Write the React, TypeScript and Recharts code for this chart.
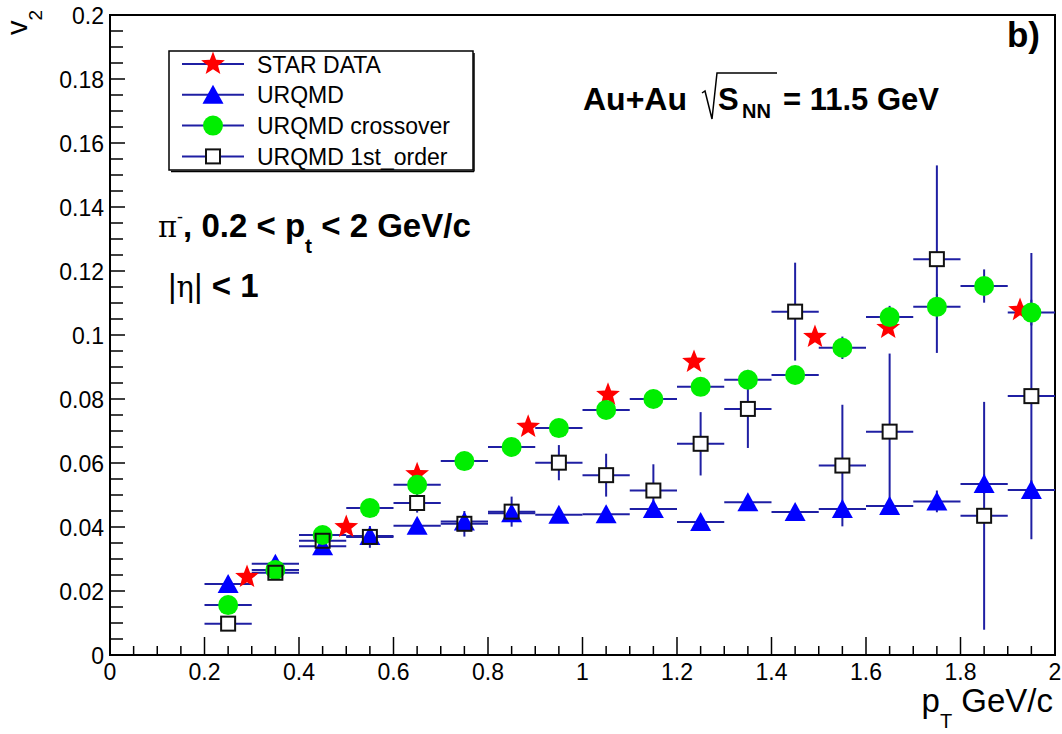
import React from 'react';
import { ScatterChart, Scatter, XAxis, YAxis, ErrorBar, Legend, ReferenceArea } from 'recharts';

// ---- data ----
const ptBins = [0.25, 0.35, 0.45, 0.55, 0.65, 0.75, 0.85, 0.95, 1.05, 1.15, 1.25, 1.35, 1.45, 1.55, 1.65, 1.75, 1.85, 1.95];
const ptBinHalfWidth = 0.05;
const urqmdV2 = [0.0222, 0.0285, 0.034, 0.0372, 0.0404, 0.0417, 0.0443, 0.0438, 0.044, 0.0456, 0.0416, 0.0477, 0.0447, 0.0456, 0.0466, 0.048, 0.0534, 0.0516];
const urqmdErr = [0.0015, 0.0015, 0.0015, 0.0015, 0.0015, 0.0025, 0.002, 0.0015, 0.0015, 0.002, 0.0015, 0.002, 0.002, 0.002, 0.002, 0.0034, 0.003, 0.003];
const crossV2 = [0.0156, 0.0266, 0.0375, 0.0459, 0.0532, 0.0606, 0.065, 0.0709, 0.0766, 0.08, 0.0838, 0.086, 0.0875, 0.096, 0.1056, 0.1088, 0.1153, 0.107];
const crossErr = [0.001, 0.001, 0.0015, 0.0015, 0.002, 0.002, 0.002, 0.002, 0.002, 0.002, 0.0025, 0.0025, 0.0025, 0.0035, 0.0035, 0.004, 0.0052, 0.004];
const firstV2 = [0.0098, 0.0257, 0.0357, 0.0369, 0.0475, 0.041, 0.0448, 0.0601, 0.0562, 0.0514, 0.066, 0.0769, 0.1073, 0.0592, 0.0698, 0.1237, 0.0435, 0.0809];
const firstErr = [0.0015, 0.0015, 0.002, 0.0034, 0.003, 0.004, 0.0047, 0.0055, 0.0067, 0.0082, 0.0099, 0.0122, 0.0153, 0.019, 0.0244, 0.0293, 0.0356, 0.0447];
const starPt = [0.29, 0.5, 0.65, 0.885, 1.054, 1.236, 1.492, 1.647, 1.926];
const starV2 = [0.0244, 0.04, 0.0565, 0.0713, 0.0813, 0.0916, 0.0994, 0.1022, 0.1078];

const xMajorTicks = [0, 0.2, 0.4, 0.6, 0.8, 1, 1.2, 1.4, 1.6, 1.8, 2];
const xMajorLabels = ['0', '0.2', '0.4', '0.6', '0.8', '1', '1.2', '1.4', '1.6', '1.8', '2'];
const yMajorTicks = [0, 0.02, 0.04, 0.06, 0.08, 0.1, 0.12, 0.14, 0.16, 0.18, 0.2];
const yMajorLabels = ['0', '0.02', '0.04', '0.06', '0.08', '0.1', '0.12', '0.14', '0.16', '0.18', '0.2'];
const xMinorDivisions = 4;
const yMinorDivisions = 4;

const seriesNames = ['STAR DATA', 'URQMD', 'URQMD crossover', 'URQMD 1st_order'];

// ---- derived tables ----
const binned = (vals: number[], errs: number[]) =>
  ptBins.map((x, i) => ({ x, y: vals[i], ex: ptBinHalfWidth, ey: errs[i] }));
const starData = starPt.map((x, i) => ({ x, y: starV2[i] }));
const urqmdData = binned(urqmdV2, urqmdErr);
const crossData = binned(crossV2, crossErr);
const firstData = binned(firstV2, firstErr);

const withMinors = (majors: number[], div: number) => {
  const out: number[] = [];
  for (let i = 0; i < majors.length - 1; i++) {
    const step = (majors[i + 1] - majors[i]) / div;
    for (let k = 0; k < div; k++) out.push(Number((majors[i] + k * step).toFixed(5)));
  }
  out.push(majors[majors.length - 1]);
  return out;
};
const xTicks = withMinors(xMajorTicks, xMinorDivisions);
const yTicks = withMinors(yMajorTicks, yMinorDivisions);

const labelFor = (v: number, majors: number[], labels: string[]) => {
  const i = majors.findIndex((m) => Math.abs(m - v) < 1e-6);
  return i >= 0 ? labels[i] : null;
};

// ---- styles ----
const FONT = '"Liberation Sans", Arial, Helvetica, sans-serif';
const BAR = '#1f1fa3';
const RED = '#ff0000';
const BLUE = '#0000ff';
const GREEN = '#00ee00';

// ---- markers ----
const starPoints = (cx: number, cy: number) => {
  const pts: string[] = [];
  for (let i = 0; i < 10; i++) {
    const r = i % 2 === 0 ? 12.5 : 5.3;
    const a = -Math.PI / 2 + (i * Math.PI) / 5;
    pts.push(`${cx + r * Math.cos(a)},${cy + r * Math.sin(a)}`);
  }
  return pts.join(' ');
};
const StarMark = ({ cx, cy }: any) => (cx == null ? null : <polygon points={starPoints(cx, cy)} fill={RED} />);
const TriMark = ({ cx, cy }: any) =>
  cx == null ? null : (
    <polygon points={`${cx},${cy - 10} ${cx + 10.5},${cy + 9} ${cx - 10.5},${cy + 9}`} fill={BLUE} />
  );
const CircleMark = ({ cx, cy }: any) => (cx == null ? null : <circle cx={cx} cy={cy} r={10} fill={GREEN} />);
const SquareFill = ({ cx, cy }: any) =>
  cx == null ? null : <rect x={cx - 7} y={cy - 7} width={14} height={14} fill="#ffffff" stroke="none" />;
const SquareLine = ({ cx, cy }: any) =>
  cx == null ? null : <rect x={cx - 7} y={cy - 7} width={14} height={14} fill="none" stroke="#111" strokeWidth={2} />;
const SquareFull = ({ cx, cy }: any) =>
  cx == null ? null : <rect x={cx - 7} y={cy - 7} width={14} height={14} fill="#fff" stroke="#111" strokeWidth={2} />;

const markerByName: Record<string, (p: any) => any> = {
  'STAR DATA': StarMark,
  URQMD: TriMark,
  'URQMD crossover': CircleMark,
  'URQMD 1st_order': SquareFull,
};

// ---- ticks ----
const XTick = (props: any) => {
  const { x, y, payload } = props;
  const label = labelFor(payload.value, xMajorTicks, xMajorLabels);
  const len = label !== null ? 18 : 9;
  return (
    <g>
      <line x1={x} y1={y} x2={x} y2={y - len} stroke="#000" strokeWidth={1.5} />
      {label !== null && (
        <text x={x} y={y + 25} textAnchor="middle" fontSize={23} fontFamily={FONT} fill="#000">
          {label}
        </text>
      )}
    </g>
  );
};
const YTick = (props: any) => {
  const { x, y, payload } = props;
  const label = labelFor(payload.value, yMajorTicks, yMajorLabels);
  const len = label !== null ? 15 : 13;
  return (
    <g>
      <line x1={x} y1={y} x2={x + len} y2={y} stroke="#000" strokeWidth={1.5} />
      {label !== null && (
        <text x={x - 6} y={y + 9} textAnchor="end" fontSize={23} fontFamily={FONT} fill="#000">
          {label}
        </text>
      )}
    </g>
  );
};

// ---- legend ----
const LegendBox = (props: any) => {
  const payload = (props.payload || [])
    .filter((e: any) => seriesNames.includes(e.value))
    .sort((a: any, b: any) => seriesNames.indexOf(a.value) - seriesNames.indexOf(b.value));
  return (
    <svg width={308} height={123} style={{ display: 'block' }}>
      <rect x={1} y={1} width={304} height={119} fill="#fff" stroke="#000" strokeWidth={1.5} />
      <line x1={306} y1={3} x2={306} y2={121.5} stroke="#000" strokeWidth={1.5} />
      <line x1={3} y1={121.5} x2={306} y2={121.5} stroke="#000" strokeWidth={1.5} />
      {payload.map((e: any, i: number) => {
        const cy = 14 + i * 30.8;
        const M = markerByName[e.value];
        return (
          <g key={e.value}>
            <line x1={14} y1={cy} x2={76} y2={cy} stroke={BAR} strokeWidth={2} />
            <M cx={45} cy={cy} />
            <text x={89} y={cy + 8.5} fontSize={23} fontFamily={FONT} fill="#000">
              {e.value}
            </text>
          </g>
        );
      })}
    </svg>
  );
};

export default function App() {
  return (
    <div style={{ position: 'absolute', left: 0, top: 0, width: 1062, height: 734, background: '#fff' }}>
      <ScatterChart width={1062} height={734} margin={{ top: 15, right: 7, bottom: 0, left: 0 }}>
        <XAxis
          type="number"
          dataKey="x"
          domain={[0, 2]}
          allowDataOverflow
          ticks={xTicks}
          interval={0}
          tickSize={0}
          tickMargin={0}
          tickLine={false}
          height={79}
          axisLine={{ stroke: '#000', strokeWidth: 2 }}
          tick={XTick}
        />
        <YAxis
          type="number"
          dataKey="y"
          domain={[0, 0.2]}
          allowDataOverflow
          ticks={yTicks}
          interval={0}
          tickSize={0}
          tickMargin={0}
          tickLine={false}
          width={110}
          axisLine={{ stroke: '#000', strokeWidth: 2 }}
          tick={YTick}
        />
        <ReferenceArea x1={0} x2={2} y1={0} y2={0.2} fill="none" stroke="#000" strokeWidth={2} fillOpacity={0} />
        <Legend
          layout="vertical"
          align="center"
          verticalAlign="middle"
          content={LegendBox}
          wrapperStyle={{ left: 168, top: 50, width: 308, height: 123 }}
        />
        <Scatter name="STAR DATA" data={starData} shape={StarMark} isAnimationActive={false} />
        <Scatter name="URQMD 1st_order bg" legendType="none" data={firstData} shape={SquareFill} isAnimationActive={false}>
          <ErrorBar dataKey="ex" direction="x" width={0} stroke={BAR} strokeWidth={2} />
          <ErrorBar dataKey="ey" direction="y" width={0} stroke={BAR} strokeWidth={2} />
        </Scatter>
        <Scatter name="URQMD" data={urqmdData} shape={TriMark} isAnimationActive={false}>
          <ErrorBar dataKey="ex" direction="x" width={0} stroke={BAR} strokeWidth={2} />
          <ErrorBar dataKey="ey" direction="y" width={0} stroke={BAR} strokeWidth={2} />
        </Scatter>
        <Scatter name="URQMD crossover" data={crossData} shape={CircleMark} isAnimationActive={false}>
          <ErrorBar dataKey="ex" direction="x" width={0} stroke={BAR} strokeWidth={2} />
          <ErrorBar dataKey="ey" direction="y" width={0} stroke={BAR} strokeWidth={2} />
        </Scatter>
        <Scatter name="URQMD 1st_order" data={firstData} shape={SquareLine} isAnimationActive={false} />
      </ScatterChart>
      <svg
        width={1062}
        height={734}
        style={{ position: 'absolute', left: 0, top: 0, pointerEvents: 'none' }}
        fontFamily={FONT}
      >
        {/* y axis title */}
        <text x={27} y={10} transform="rotate(-90 27 10)" textAnchor="end" fontSize={29} fill="#000">
          v<tspan dy={15} fontSize={19}>2</tspan>
        </text>
        {/* x axis title */}
        <text x={1053} y={712} textAnchor="end" fontSize={33} fill="#000">
          p<tspan dy={16} fontSize={20}>T</tspan>
          <tspan dy={-16}> GeV/c</tspan>
        </text>
        {/* panel label */}
        <text x={1040} y={47} textAnchor="end" fontSize={35} fontWeight="bold" fill="#000">
          b)
        </text>
        {/* collision system */}
        <text x={583} y={110} fontSize={32} fontWeight="bold" fill="#000">
          Au+Au
        </text>
        <polyline points="702,93 705,91 712,119 717,73 777,73" fill="none" stroke="#000" strokeWidth={1.5} />
        <text x={718} y={110} fontSize={31} fontWeight="bold" fill="#000">
          S
        </text>
        <text x={742} y={118} fontSize={20} fontWeight="bold" fill="#000">
          NN
        </text>
        <text x={783} y={110} fontSize={31} fontWeight="bold" fill="#000">
          = 11.5 GeV
        </text>
        {/* cuts */}
        <text x={158} y={237} fontSize={33} fontWeight="bold" fill="#000">
          <tspan fontWeight="normal" fontFamily='"DejaVu Serif", serif' fontSize={29}>π</tspan>
          <tspan dy={-14} fontSize={18} fontWeight="normal">-</tspan>
          <tspan dy={14}>, 0.2 &lt; p</tspan>
          <tspan dy={16} fontSize={21}>t</tspan>
          <tspan dy={-16}> &lt; 2 GeV/c</tspan>
        </text>
        <text x={168} y={297} fontSize={33} fontWeight="bold" fill="#000">
          <tspan fontWeight="normal">|</tspan>
          <tspan fontWeight="normal" fontFamily='"DejaVu Serif", serif' fontSize={29}>η</tspan>
          <tspan fontWeight="normal">|</tspan>
          <tspan> &lt; 1</tspan>
        </text>
      </svg>
    </div>
  );
}
